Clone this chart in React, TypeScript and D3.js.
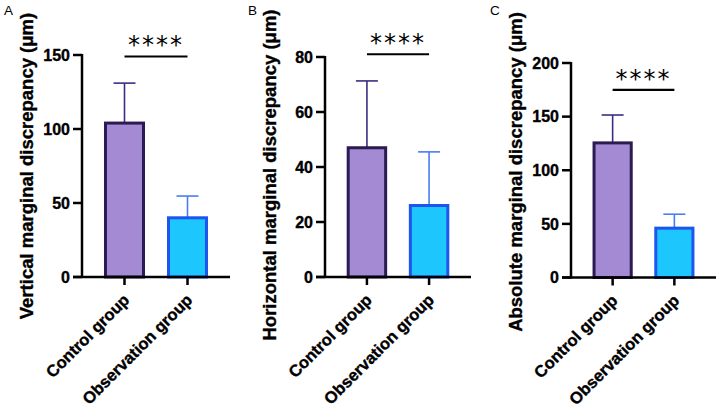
import React from "react";
import * as d3 from "d3";

const categories = ["Control group", "Observation group"];
const panelLetters = ["A", "B", "C"];
const yTitles = [
  "Vertical marginal discrepancy (μm)",
  "Horizontal marginal discrepancy (μm)",
  "Absolute marginal discrepancy (μm)",
];
const verticalMeans = [104, 40];
const verticalSD = [27, 14.7];
const horizontalMeans = [47, 26];
const horizontalSD = [24.3, 19.5];
const absoluteMeans = [125.5, 46];
const absoluteSD = [26, 13];
const yMaxes = [150, 80, 200];
const yTickValues = [
  [0, 50, 100, 150],
  [0, 20, 40, 60, 80],
  [0, 50, 100, 150, 200],
];
const bracketValues = [149, 81, 175];
const significance = ["****", "****", "****"];

const meansList = [verticalMeans, horizontalMeans, absoluteMeans];
const sdList = [verticalSD, horizontalSD, absoluteSD];

const layout = [
  { axisX: 82, xEnd: 230, yTop: 55, y0: 277, titleCy: 166 },
  { axisX: 325, xEnd: 471, yTop: 57, y0: 277, titleCy: 175 },
  { axisX: 571, xEnd: 716, yTop: 63, y0: 277.5, titleCy: 172 },
];
const letterX = [4, 248, 490];

const fillColors = ["#A48AD3", "#1EC6FE"];
const strokeColors = ["#2C1A52", "#1D55EE"];
const errColors = ["#3E2C82", "#4A7CF2"];
const FONT = "'Liberation Sans', Arial, sans-serif";

function Panel({ i }: { i: number }) {
  const L = layout[i];
  const x = d3.scaleBand<string>().domain(categories).range([L.axisX, L.xEnd]).padding(0.349);
  const y = d3.scaleLinear().domain([0, yMaxes[i]]).range([L.y0, L.yTop]);
  const bw = x.bandwidth();
  const sw = 3;
  const means = meansList[i];
  const sds = sdList[i];
  const bx1 = (x(categories[0]) as number) + bw / 2;
  const bx2 = (x(categories[1]) as number) + bw / 2;
  const by = y(bracketValues[i]);
  const boldText = { fontWeight: "bold" as const, fontFamily: FONT, fill: "#000", stroke: "#000", strokeWidth: 0.35 };
  return (
    <g>
      <text x={letterX[i]} y={15} fontSize={13.5} fontFamily={FONT} fill="#000">
        {panelLetters[i]}
      </text>
      <text
        transform={`translate(${L.axisX - 49},${L.titleCy}) rotate(-90)`}
        textAnchor="middle"
        fontSize={18.5}
        {...boldText}
      >
        {yTitles[i]}
      </text>
      {categories.map((c, k) => {
        const cx = (x(c) as number) + bw / 2;
        const top = y(means[k]);
        const errTop = y(means[k] + sds[k]);
        return (
          <g key={c}>
            <line x1={cx} x2={cx} y1={top} y2={errTop} stroke={errColors[k]} strokeWidth={1.6} />
            <line x1={cx - 11} x2={cx + 11} y1={errTop} y2={errTop} stroke={errColors[k]} strokeWidth={1.6} />
            <rect
              x={(x(c) as number) + sw / 2}
              y={top}
              width={bw - sw}
              height={L.y0 - top}
              fill={fillColors[k]}
              stroke={strokeColors[k]}
              strokeWidth={sw}
            />
          </g>
        );
      })}
      {/* y axis */}
      <line x1={L.axisX} x2={L.axisX} y1={L.y0 + 1} y2={y(yMaxes[i]) - 1} stroke="#000" strokeWidth={2.5} />
      {yTickValues[i].map((t) => (
        <g key={t}>
          <line x1={L.axisX - 9} x2={L.axisX} y1={y(t)} y2={y(t)} stroke="#000" strokeWidth={2.5} />
          <text x={L.axisX - 12} y={y(t)} dy="0.36em" textAnchor="end" fontSize={16} {...boldText}>
            {t}
          </text>
        </g>
      ))}
      {/* x axis */}
      <line x1={L.axisX - 9} x2={L.xEnd} y1={L.y0} y2={L.y0} stroke="#000" strokeWidth={2.5} />
      {categories.map((c) => {
        const cx = (x(c) as number) + bw / 2;
        return (
          <g key={c}>
            <line x1={cx} x2={cx} y1={L.y0} y2={L.y0 + 8} stroke="#000" strokeWidth={2.5} />
            <text
              transform={`translate(${cx + 6},${L.y0 + 24}) rotate(-45)`}
              textAnchor="end"
              fontSize={16.5}
              {...boldText}
            >
              {c}
            </text>
          </g>
        );
      })}
      {/* significance */}
      <line x1={bx1} x2={bx2} y1={by} y2={by} stroke="#000" strokeWidth={2.2} />
      <text
        x={(bx1 + bx2) / 2}
        y={by - 3}
        textAnchor="middle"
        fontSize={24}
        fontFamily="'DejaVu Sans', sans-serif"
        letterSpacing={2}
        fill="#000"
      >
        {significance[i]}
      </text>
    </g>
  );
}

export default function App() {
  return (
    <svg
      width={720}
      height={411}
      viewBox="0 0 720 411"
      style={{ position: "absolute", left: 0, top: 0, background: "#fff" }}
    >
      <rect width={720} height={411} fill="#fff" />
      {[0, 1, 2].map((i) => (
        <Panel key={i} i={i} />
      ))}
    </svg>
  );
}
